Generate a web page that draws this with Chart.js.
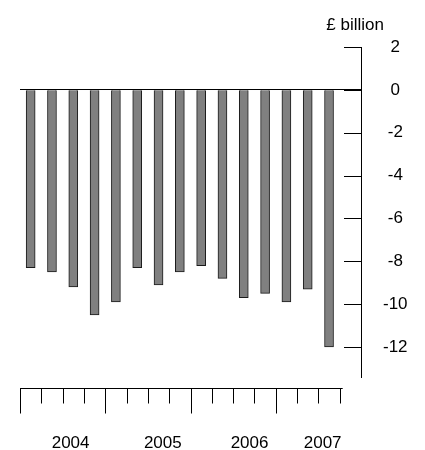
<!DOCTYPE html>
<html>
<head>
<meta charset="utf-8">
<script src="https://cdn.jsdelivr.net/npm/chart.js@4/dist/chart.umd.min.js"></script>
<style>
  html, body { margin: 0; padding: 0; background: #fff; }
  #wrap { width: 425px; height: 450px; }
</style>
</head>
<body>
<div id="wrap"><canvas id="chart"></canvas></div>
<script>
// quarterly values, £ billion
const quarters = ['2004 Q1', '2004 Q2', '2004 Q3', '2004 Q4',
                  '2005 Q1', '2005 Q2', '2005 Q3', '2005 Q4',
                  '2006 Q1', '2006 Q2', '2006 Q3', '2006 Q4',
                  '2007 Q1', '2007 Q2', '2007 Q3']
const balance = [-8.3, -8.5, -9.2, -10.5, -9.9, -8.3, -9.1, -8.5,
                 -8.2, -8.8, -9.7, -9.5, -9.9, -9.3, -12.0]
const yearLabels = ['2004', '2005', '2006', '2007']
const yTicks = [2, 0, -2, -4, -6, -8, -10, -12]
const unitLabel = '£ billion'

// where the year labels sit, in quarter units (as in the original)
const yearLabelAt = [1.875, 6.2, 10.27, 13.7]

const FONT = '17px "Liberation Sans", Arial, sans-serif'

const axesPlugin = {
    id: 'axesPlugin',
    afterDraw(chart) {
        const {ctx, chartArea, scales: {x, y}} = chart
        ctx.save()
        ctx.strokeStyle = '#000'
        ctx.lineWidth = 1
        ctx.fillStyle = '#000'

        // inward ticks on the value axis
        yTicks.forEach(v => {
            const py = Math.round(y.getPixelForValue(v)) + 0.5
            ctx.beginPath()
            ctx.moveTo(chartArea.right - 17, py)
            ctx.lineTo(chartArea.right, py)
            ctx.stroke()
        })

        // separate time axis below the plot
        const axisY = Math.round(chartArea.bottom) + 11.5
        ctx.beginPath()
        ctx.moveTo(x.getPixelForValue(-0.5), axisY)
        ctx.lineTo(x.getPixelForValue(quarters.length - 0.5) + 3, axisY)
        ctx.stroke()
        for (let i = 0; i <= quarters.length; i++) {
            const px = Math.round(x.getPixelForValue(i - 0.5)) + 0.5
            ctx.beginPath()
            ctx.moveTo(px, axisY)
            ctx.lineTo(px, axisY + (i % 4 === 0 ? 25 : 15))
            ctx.stroke()
        }

        ctx.font = FONT
        ctx.textAlign = 'center'
        ctx.textBaseline = 'middle'
        yearLabels.forEach((lab, i) => {
            ctx.fillText(lab, x.getPixelForValue(yearLabelAt[i]), chartArea.bottom + 66)
        })

        ctx.textAlign = 'right'
        ctx.fillText(unitLabel, chartArea.right + 23, 25)
        ctx.restore()
    }
}

const config = {
    type: 'bar',
    data: {
        datasets: [{
            data: balance.map((v, i) => ({x: i, y: v})),
            backgroundColor: '#808080',
            borderColor: '#1a1a1a',
            borderWidth: 1,
            barThickness: 9
        }]
    },
    options: {
        responsive: true,
        maintainAspectRatio: false,
        animation: false,
        layout: {
            padding: {left: 20, top: 47, right: 17, bottom: 73}
        },
        plugins: {
            legend: {display: false},
            tooltip: {enabled: false}
        },
        scales: {
            x: {
                type: 'linear',
                display: false,
                offset: false,
                min: -0.5,
                max: quarters.length + 0.5
            },
            y: {
                position: 'right',
                min: -13.4,
                max: 2,
                afterBuildTicks: axis => {
                    axis.ticks = yTicks.map(v => ({value: v}))
                },
                afterFit: axis => {
                    axis.width = 47
                },
                border: {display: true, color: '#000', width: 1},
                grid: {
                    drawTicks: false,
                    color: c => (c.tick && c.tick.value === 0 ? '#000' : 'rgba(0,0,0,0)'),
                    lineWidth: 1
                },
                ticks: {
                    padding: 22,
                    crossAlign: 'center',
                    color: '#000',
                    font: {family: '"Liberation Sans", Arial, sans-serif', size: 17}
                }
            }
        }
    },
    plugins: [axesPlugin]
}

new Chart(document.getElementById('chart'), config)
</script>
</body>
</html>
